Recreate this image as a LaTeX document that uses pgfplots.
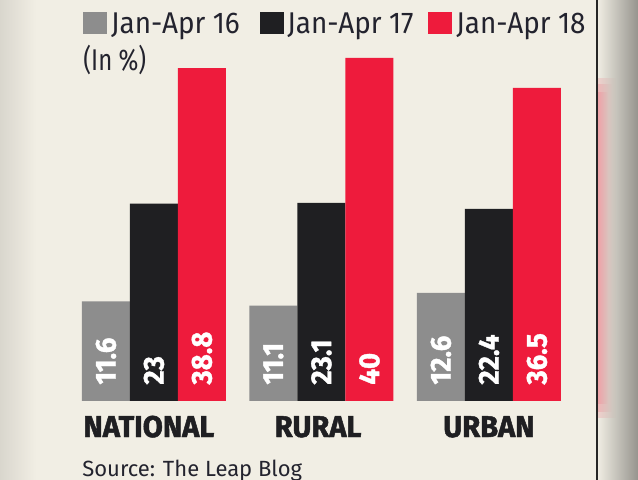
\documentclass[border=0pt]{standalone}
\usepackage{pgfplots}
\pgfplotsset{compat=1.18}
\usetikzlibrary{fadings}
\usepackage{fontspec}
\setmainfont{Fira Sans}[FakeStretch=0.93]
\newfontfamily\narrowfont{Fira Sans}[FakeStretch=0.8]
\newfontfamily\srcfamily{Fira Sans}
\newfontfamily\heavyfont{Fira Sans}[FakeStretch=0.97, BoldFeatures={FakeBold=1.6}]
\newfontfamily\valfamily{Fira Sans}[FakeStretch=0.95, BoldFeatures={FakeBold=1.2}]
\definecolor{bgc}{HTML}{F1EEE4}
\definecolor{g16}{HTML}{8D8D8D}
\definecolor{b17}{HTML}{1F1F22}
\definecolor{r18}{HTML}{EE1B3C}
\definecolor{txt}{HTML}{23232E}
\newcommand\legfont{\fontsize{15}{17}\selectfont}
\newcommand\catfont{\heavyfont\bfseries\fontsize{15}{18}\selectfont}
\newcommand\valfont{\valfamily\bfseries\fontsize{14.5}{16}\selectfont}
\begin{document}
\begin{tikzpicture}
\fill[bgc] (0,0) rectangle (319pt,240pt);
\shade[left color=black!10!bgc, right color=bgc] (0,0) rectangle (18pt,240pt);
\shade[left color=bgc, right color=bgc!62!black] (298.5pt,0) rectangle (319pt,240pt);
\fill[r18, path fading=east, opacity=0.14] (298.5pt,31pt) rectangle (308pt,201pt);
\fill[r18, path fading=east, opacity=0.14] (298.5pt,34pt) rectangle (306pt,198pt);
\fill[r18, path fading=east, opacity=0.14] (298.5pt,38pt) rectangle (304pt,194pt);
\draw[line width=0.6pt, black!85] (298.5pt,0) -- (298.5pt,240pt);
% legend
\fill[g16] (41.35pt,222.85pt) rectangle (53.35pt,234.15pt);
\fill[b17] (130pt,222.85pt) rectangle (141.8pt,234.15pt);
\fill[r18] (214pt,222.85pt) rectangle (226pt,234.15pt);
\node[anchor=base west, text=txt, font=\legfont, inner sep=0pt] at (55.35pt,223.35pt) {Jan-Apr 16};
\node[anchor=base west, text=txt, font=\legfont, inner sep=0pt] at (143.5pt,223.35pt) {Jan-Apr 17};
\node[anchor=base west, text=txt, font=\legfont, inner sep=0pt] at (228pt,223.35pt) {Jan-Apr 18};
\begin{axis}[at={(0,0)}, anchor=south west, scale only axis,
  width=319pt, height=240pt,
  xmin=-0.919, xmax=2.890, ymin=-9.21, ymax=46.74,
  hide axis, clip=false, ybar, bar width=24pt,
]
\addplot[fill=g16, draw=none, bar shift=-24pt] coordinates {(0,11.6) (1,11.1) (2,12.6)};
\addplot[fill=b17, draw=none, bar shift=0pt] coordinates {(0,23) (1,23.1) (2,22.4)};
\addplot[fill=r18, draw=none, bar shift=24pt] coordinates {(0,38.8) (1,40) (2,36.5)};
\addplot[draw=none, fill=none, bar shift=-24pt, forget plot, nodes near coords,
  point meta=explicit symbolic,
  every node near coord/.append style={rotate=90, anchor=west, inner xsep=8pt, inner ysep=0pt, text=white, font=\valfont}]
  coordinates {(0,0) [11.6] (1,0) [11.1] (2,0) [12.6]};
\addplot[draw=none, fill=none, bar shift=0pt, forget plot, nodes near coords,
  point meta=explicit symbolic,
  every node near coord/.append style={rotate=90, anchor=west, inner xsep=8pt, inner ysep=0pt, text=white, font=\valfont}]
  coordinates {(0,0) [23] (1,0) [23.1] (2,0) [22.4]};
\addplot[draw=none, fill=none, bar shift=24pt, forget plot, nodes near coords,
  point meta=explicit symbolic,
  every node near coord/.append style={rotate=90, anchor=west, inner xsep=8pt, inner ysep=0pt, text=white, font=\valfont}]
  coordinates {(0,0) [38.8] (1,0) [40] (2,0) [36.5]};
\node[anchor=base, text=b17, font=\catfont, inner sep=0pt] at (axis cs:-0.03,-4.2) {NATIONAL};
\node[anchor=base, text=b17, font=\catfont, inner sep=0pt] at (axis cs:0.98,-4.2) {RURAL};
\node[anchor=base, text=b17, font=\catfont, inner sep=0pt] at (axis cs:2.0,-4.2) {URBAN};
\end{axis}
\node[anchor=base west, text=txt, font=\narrowfont\legfont, inner sep=0pt] at (41.5pt,204.5pt) {(In \%)};
\node[anchor=base west, text=txt, font=\srcfamily\fontsize{11}{13}\selectfont, inner sep=0pt] at (41pt,1.5pt) {Source: The Leap Blog};
\pgfresetboundingbox
\path (0,0) rectangle (319pt,240pt);
\end{tikzpicture}
\end{document}
